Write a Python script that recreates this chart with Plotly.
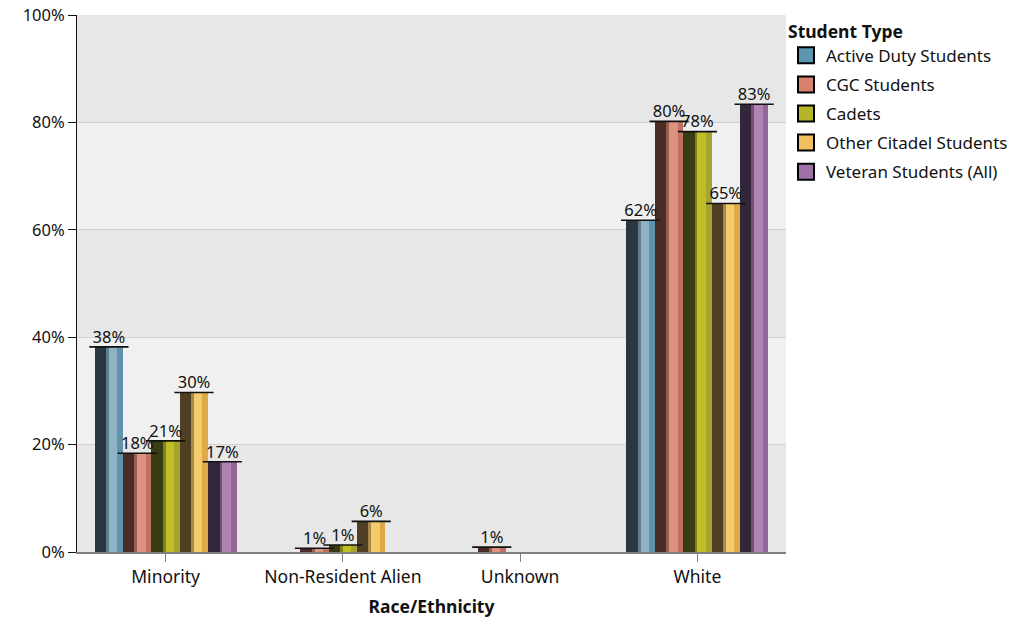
import plotly.graph_objects as go

categories = ["Minority", "Non-Resident Alien", "Unknown", "White"]
series_names = ["Active Duty Students", "CGC Students", "Cadets",
                "Other Citadel Students", "Veteran Students (All)"]
active_duty = [38.2, None, None, 61.8]
cgc_students = [18.4, 0.7, 0.9, 80.2]
cadets = [20.7, 1.3, None, 78.3]
other_citadel = [29.7, 5.7, None, 64.9]
veteran = [16.8, None, None, 83.4]
series_values = [active_duty, cgc_students, cadets, other_citadel, veteran]
y_ticks = [0, 20, 40, 60, 80, 100]

# styles: (dark left, mid, light, right edge, legend swatch)
palettes = [
    ("#29383e", "#5d7f8d", "#8fb3c3", "#5f93ad", "#5b96b0"),
    ("#4a2c27", "#9a5d52", "#dc927f", "#c07062", "#d9806f"),
    ("#393b12", "#7f8219", "#bfbf25", "#a6a42f", "#b5b52a"),
    ("#4f4023", "#a88b48", "#f3cb6c", "#deaa47", "#f0c060"),
    ("#33253a", "#6e5274", "#b083b2", "#936699", "#a070a8"),
]
stripes = [(0.0, 0.40, 0), (0.40, 0.50, 1), (0.50, 0.80, 2), (0.80, 1.0, 3)]

FONT = "Noto Sans"
n = len(series_names)
group_w = 0.8
w = group_w / n

fig = go.Figure()

for j, (name, vals) in enumerate(zip(series_names, series_values)):
    pal = palettes[j]
    centers = [i - group_w / 2 + w * (j + 0.5) for i in range(len(categories))]
    for a, b, ci in stripes:
        xs = [c - w / 2 + (a + b) / 2 * w for c in centers]
        fig.add_trace(go.Bar(
            x=xs, y=vals, width=(b - a) * w,
            marker=dict(color=pal[ci], line=dict(width=0)),
            showlegend=False, hoverinfo="skip"))
    # top edge
    fig.add_trace(go.Scatter(
        x=centers, y=vals, mode="markers",
        marker=dict(symbol="line-ew", size=28, color="#111111",
                    line=dict(width=1.6, color="#111111")),
        showlegend=False, hoverinfo="skip", cliponaxis=False))
    # value label
    fig.add_trace(go.Scatter(
        x=centers, y=vals, mode="text",
        text=[(f"{round(v)}%" if v is not None else "") for v in vals],
        textposition="top center",
        textfont=dict(family=FONT, size=16.5, color="#111111"),
        showlegend=False, hoverinfo="skip", cliponaxis=False))
    # legend swatch
    fig.add_trace(go.Scatter(
        x=[None], y=[None], mode="markers", name=name,
        marker=dict(symbol="square", size=16, color=pal[4],
                    line=dict(width=2, color="#000000")),
        legendgroup=name))

shapes = []
for k in range(len(y_ticks) - 1):
    if k % 2 == 1:
        shapes.append(dict(type="rect", xref="paper", yref="y", x0=0, x1=1,
                           y0=y_ticks[k], y1=y_ticks[k + 1],
                           fillcolor="#f0f0f0", line=dict(width=0), layer="below"))

fig.update_layout(
    width=1016, height=621,
    margin=dict(l=69, r=238, t=7, b=77),
    paper_bgcolor="white", plot_bgcolor="#e7e7e7",
    barmode="overlay", bargap=0,
    font=dict(family=FONT, size=17, color="#111111"),
    shapes=shapes,
    legend=dict(x=1.0, y=1.0, xanchor="left", yanchor="top",
                title=dict(text="<b>Student Type</b>", font=dict(size=17.5)),
                font=dict(size=17), itemsizing="trace",
                tracegroupgap=4, bgcolor="rgba(0,0,0,0)"),
    xaxis=dict(range=[-0.5, len(categories) - 0.5], automargin=False,
               tickmode="array", tickvals=list(range(len(categories))),
               ticktext=categories, ticks="outside", ticklen=8,
               tickcolor="#808080", showline=True, linecolor="#808080",
               linewidth=2, showgrid=False, zeroline=False,
               tickfont=dict(size=17.5),
               title=dict(text="<b>Race/Ethnicity</b>", standoff=14,
                          font=dict(size=17.5))),
    yaxis=dict(range=[0, 100.02], tickvals=y_ticks, automargin=False,
               ticktext=[f"{t}%" for t in y_ticks],
               ticks="outside", ticklen=8, tickcolor="#111111",
               ticklabeloverflow="allow",
               showline=True, linecolor="#111111", linewidth=1,
               showgrid=True, gridcolor="#d2d2d2", gridwidth=1,
               zeroline=False, tickfont=dict(size=16.5)),
)

fig.write_html("out.html")
